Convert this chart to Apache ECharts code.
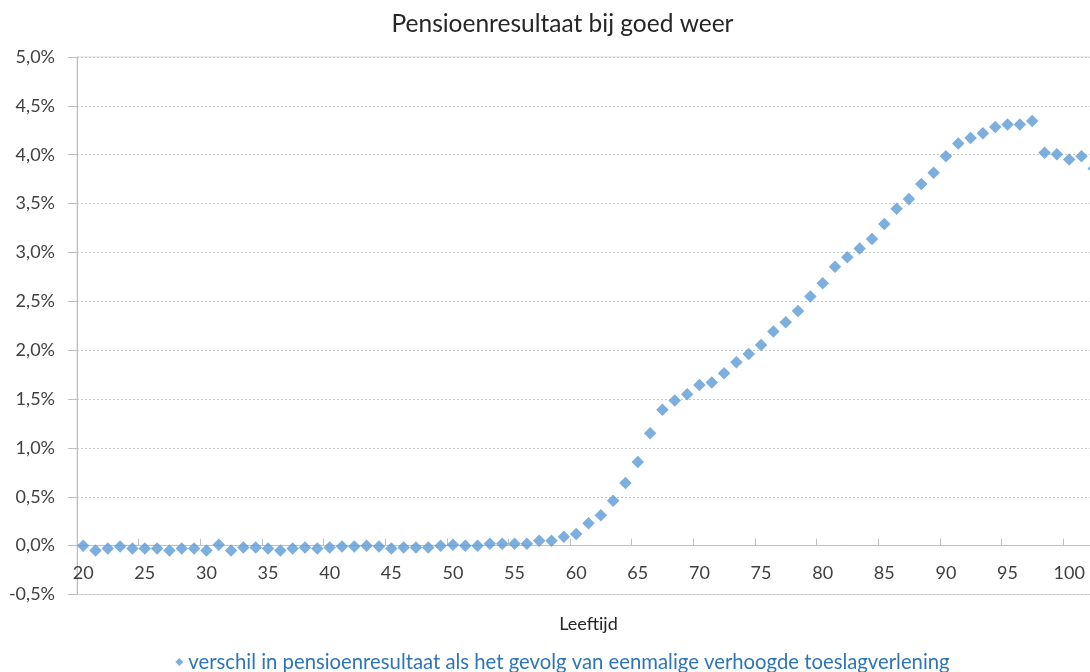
<!DOCTYPE html>
<html>
<head>
<meta charset="utf-8">
<script src="https://cdn.jsdelivr.net/npm/echarts@6/dist/echarts.min.js"></script>
<style>
html,body{margin:0;padding:0;overflow:hidden;background:#fff;width:1090px;height:672px;}
#c{width:1125px;height:672px;}
</style>
</head>
<body>
<div id="c"></div>
<script>
const titleText = 'Pensioenresultaat bij goed weer';
const xAxisTitle = 'Leeftijd';
const seriesName = 'verschil in pensioenresultaat als het gevolg van eenmalige verhoogde toeslagverlening';
const ages = ['20','21','22','23','24','25','26','27','28','29','30','31','32','33','34','35','36','37','38','39',
  '40','41','42','43','44','45','46','47','48','49','50','51','52','53','54','55','56','57','58','59',
  '60','61','62','63','64','65','66','67','68','69','70','71','72','73','74','75','76','77','78','79',
  '80','81','82','83','84','85','86','87','88','89','90','91','92','93','94','95','96','97','98','99',
  '100','101','102'];
const verschil = [0.00,-0.05,-0.03,-0.01,-0.03,-0.03,-0.03,-0.05,-0.03,-0.03,-0.05,0.01,-0.05,-0.02,-0.02,-0.03,-0.05,-0.03,-0.02,-0.03,
  -0.02,-0.01,-0.01,0.00,-0.01,-0.03,-0.02,-0.02,-0.02,0.00,0.01,0.00,0.00,0.02,0.02,0.02,0.02,0.05,0.05,0.09,
  0.12,0.23,0.31,0.46,0.64,0.855,1.15,1.39,1.485,1.55,1.645,1.67,1.765,1.877,1.96,2.054,2.19,2.286,2.40,2.55,
  2.685,2.854,2.95,3.04,3.137,3.29,3.447,3.546,3.70,3.815,3.985,4.115,4.17,4.22,4.285,4.31,4.31,4.345,4.02,4.005,
  3.95,3.985,3.86];
const yMin = -0.5, yMax = 5.0, yStep = 0.5;

const CH = 672, GT = 57, GB = 77.5;
const gridH = CH - GT - GB;
// place the category axis at the value 0 line of the y axis
const zeroOffset = -gridH * (0 - yMin) / (yMax - yMin);

const chart = echarts.init(document.getElementById('c'), null, {renderer:'canvas'});
const FONT = 'Lato';
chart.setOption({
  animation: false,
  backgroundColor: '#fff',
  title: {
    text: titleText, left: 'center', top: 12, padding: 0,
    textStyle: {fontFamily: FONT, fontSize: 24.5, fontWeight: 'normal', color: '#262626'}
  },
  legend: {
    data: [{name: seriesName, icon: 'diamond'}],
    left: 'center', top: 647, itemWidth: 8, itemHeight: 8, itemGap: 6,
    textStyle: {fontFamily: FONT, fontSize: 20.3, color: '#2e75b6'}
  },
  grid: {left: 77, right: 25, top: GT, bottom: GB, show: true, borderColor: '#d9d9d9', borderWidth: 1,
    containLabel: false, outerBoundsMode: 'none'},
  xAxis: {
    type: 'category', data: ages, boundaryGap: true, position: 'bottom', offset: zeroOffset,
    name: xAxisTitle, nameLocation: 'middle', nameGap: 70,
    nameTextStyle: {fontFamily: FONT, fontSize: 18, color: '#262626'},
    axisLine: {onZero: false, lineStyle: {color: '#bfbfbf', width: 1}},
    axisTick: {show: true, inside: true, length: 7, interval: 4, alignWithLabel: false, lineStyle: {color: '#bfbfbf'}},
    axisLabel: {interval: 4, margin: 19, fontFamily: FONT, fontSize: 18, color: '#404040'},
    splitLine: {show: false}
  },
  yAxis: {
    type: 'value', min: yMin, max: yMax, interval: yStep,
    axisLine: {show: true, onZero: false, lineStyle: {color: '#bfbfbf', width: 1}},
    axisTick: {show: true, inside: false, length: 9, lineStyle: {color: '#bfbfbf'}},
    axisLabel: {margin: 22, fontFamily: FONT, fontSize: 18, color: '#404040',
      formatter: v => v.toFixed(1).replace('.', ',') + '%'},
    splitLine: {show: true, lineStyle: {color: '#c8c8c8', type: [2, 2], width: 1}}
  },
  series: [{
    name: seriesName, type: 'scatter', data: verschil,
    symbol: 'diamond', symbolSize: 12.5,
    itemStyle: {color: '#5b9bd5'}
  }]
});
</script>
</body>
</html>
